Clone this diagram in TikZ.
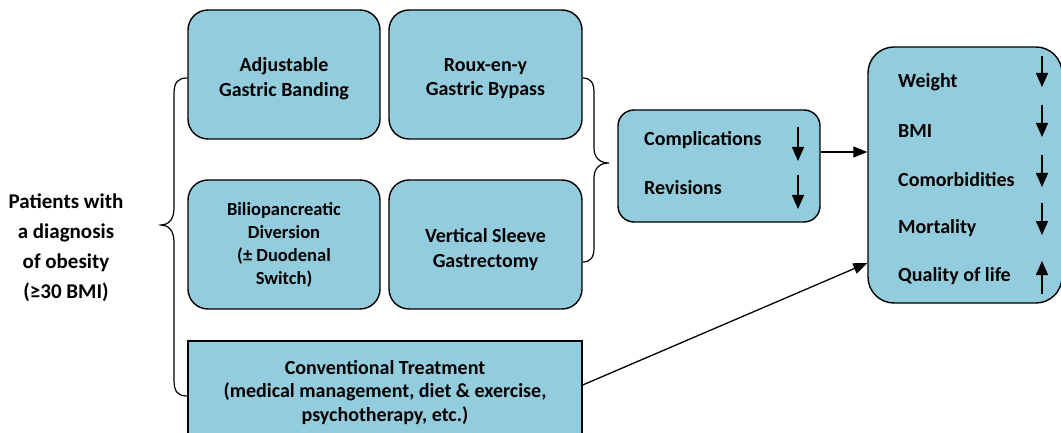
\documentclass[tikz,border=0pt]{standalone}
\usepackage{fontspec}
\setmainfont{Carlito}
\usetikzlibrary{arrows.meta}
\definecolor{boxblue}{HTML}{93CDDD}
\tikzset{
  rbox/.style={draw=black, line width=1.4pt, fill=boxblue, rounded corners=20pt, inner sep=0pt},
  sbox/.style={draw=black, line width=1.4pt, fill=boxblue, inner sep=0pt},
  btxt/.style={align=center, font=\bfseries\fontsize{20}{24.5}\selectfont, inner sep=0pt},
  lbl/.style={font=\bfseries\fontsize{20}{24}\selectfont, anchor=west, inner sep=0pt},
  conn/.style={line width=1.3pt, -{Triangle[length=14pt,width=11pt]}},
  updown/.style={line width=1.3pt, -{Triangle[length=14pt,width=12pt]}},
  brace/.style={line width=1.2pt}
}
\begin{document}
\begin{tikzpicture}[x=1pt,y=-1pt]
\useasboundingbox (0,0) rectangle (1061,433);
% left text
\node[align=center, font=\bfseries\fontsize{21}{30}\selectfont, inner sep=0pt] (pat) at (66,248) {Patients with\\a diagnosis\\of obesity\\(≥30 BMI)};
% boxes
\node[rbox, minimum width=192pt, minimum height=129pt] (agb) at (284,74.5) {};
\node[rbox, minimum width=193pt, minimum height=129pt] (rgb) at (485.5,74.5) {};
\node[rbox, minimum width=192pt, minimum height=129pt] (bpd) at (284,244.5) {};
\node[rbox, minimum width=193pt, minimum height=129pt] (vsg) at (485.5,244.5) {};
\node[sbox, minimum width=394pt, minimum height=100pt] (conv) at (385,391) {};
\node[btxt] (agbt) at (284,78.5) {Adjustable\\Gastric Banding};
\node[btxt] (rgbt) at (485.5,78.5) {Roux-en-y\\Gastric Bypass};
\node[btxt, font=\bfseries\fontsize{18.5}{23}\selectfont] (bpdt) at (284,245) {Biliopancreatic\\Diversion\\(± Duodenal\\Switch)};
\node[btxt] (vsgt) at (485.5,249.5) {Vertical Sleeve\\Gastrectomy};
\node[btxt, font=\bfseries\fontsize{20}{23.5}\selectfont] (convt) at (385,392.5) {Conventional Treatment\\(medical management, diet \& exercise,\\psychotherapy, etc.)};
% complications box
\node[rbox, rounded corners=16pt, minimum width=202pt, minimum height=112pt] (comp) at (719,166) {};
\node[lbl] (compl) at (644,140) {Complications};
\node[lbl] (revl) at (644,188) {Revisions};
\coordinate (ca1) at (798,127); \coordinate (cb1) at (798,161);
\coordinate (ca2) at (798,175); \coordinate (cb2) at (798,209);
\draw[updown] (ca1) -- (cb1);
\draw[updown] (ca2) -- (cb2);
% outcome box
\node[rbox, rounded corners=26pt, minimum width=194pt, minimum height=256pt] (out) at (965,175) {};
\node[lbl] (w) at (898,82) {Weight};
\node[lbl] (b) at (898,131) {BMI};
\node[lbl] (c) at (898,180) {Comorbidities};
\node[lbl] (m) at (898,228) {Mortality};
\node[lbl] (q) at (898,276) {Quality of life};
\coordinate (wa) at (1042,56); \coordinate (wb) at (1042,87);
\coordinate (ba) at (1042,105); \coordinate (bb) at (1042,137);
\coordinate (cca) at (1042,155); \coordinate (ccb) at (1042,187);
\coordinate (ma) at (1042,203); \coordinate (mb) at (1042,235);
\coordinate (qa) at (1042,294); \coordinate (qb) at (1042,261);
\draw[updown] (wa) -- (wb);
\draw[updown] (ba) -- (bb);
\draw[updown] (cca) -- (ccb);
\draw[updown] (ma) -- (mb);
\draw[updown] (qa) -- (qb);
% connectors
\draw[conn] (comp.east |- 0,152) -- (out.west |- 0,152);
\draw[conn] (conv.east |- 0,385) -- (out.west |- 0,263);
% left brace
\draw[brace] (agb.west |- 0,78) .. controls (178,78) and (174,82) .. (174,94)
  -- (174,208) .. controls (174,220) and (168,225) .. (161,225)
  .. controls (168,225) and (174,230) .. (174,242)
  -- (174,380) .. controls (174,392) and (178,396) .. (conv.west |- 0,396);
% right brace
\draw[brace] (rgb.east |- 0,78) .. controls (590,78) and (594,82) .. (594,92)
  -- (594,148) .. controls (594,158) and (600,163) .. (609,163)
  .. controls (600,163) and (594,168) .. (594,178)
  -- (594,248) .. controls (594,258) and (590,262) .. (vsg.east |- 0,262);
\end{tikzpicture}
\end{document}
